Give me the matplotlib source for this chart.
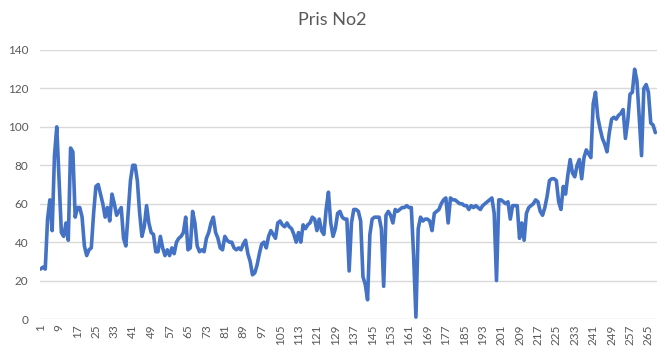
import numpy as np
import matplotlib.pyplot as plt

# DATA
prices = [
    26, 27, 26, 52, 62, 46, 85, 100, 72, 45,
    43, 50, 41, 89, 87, 53, 58, 58, 53, 38,
    33, 36, 37, 55, 69, 70, 65, 60, 53, 58,
    51, 65, 60, 54, 56, 58, 42, 38, 55, 72,
    80, 80, 72, 55, 43, 48, 59, 50, 45, 44,
    35, 35, 43, 37, 33, 36, 33, 37, 34, 40,
    42, 43, 45, 53, 36, 37, 56, 50, 38, 35,
    36, 35, 42, 45, 50, 53, 45, 42, 37, 36,
    43, 41, 40, 40, 37, 36, 37, 36, 39, 41,
    34, 30, 23, 24, 28, 34, 39, 40, 37, 43,
    46, 44, 42, 50, 51, 49, 48, 50, 48, 47,
    44, 40, 45, 40, 49, 47, 49, 50, 53, 52,
    46, 52, 46, 44, 57, 66, 50, 43, 47, 55,
    56, 53, 52, 52, 25, 50, 57, 57, 56, 51,
    22, 18, 10, 44, 52, 53, 53, 53, 47, 17,
    54, 56, 54, 50, 57, 56, 57, 58, 58, 59,
    58, 58, 33, 1, 47, 53, 51, 52, 52, 51,
    46, 55, 56, 57, 60, 62, 63, 50, 63, 62,
    62, 61, 60, 60, 59, 59, 57, 59, 58, 59,
    58, 57, 59, 60, 61, 62, 63, 55, 20, 62,
    62, 61, 60, 61, 52, 59, 59, 59, 42, 50,
    41, 55, 58, 59, 60, 62, 61, 56, 54, 58,
    64, 72, 73, 73, 72, 61, 57, 69, 65, 75,
    83, 76, 74, 80, 83, 73, 84, 88, 86, 84,
    112, 118, 105, 99, 94, 91, 87, 97, 104, 105,
    104, 106, 107, 109, 94, 103, 117, 118, 130, 124,
    105, 85, 120, 122, 118, 102, 101, 97,
]
categories = list(range(1, len(prices) + 1))
xtick_labels = ["1", "9", "17", "25", "33", "41", "49", "57", "65", "73",
                "81", "89", "97", "105", "113", "121", "129", "137", "145",
                "153", "161", "169", "177", "185", "193", "201", "209",
                "217", "225", "233", "241", "249", "257", "265"]
ytick_values = [0, 20, 40, 60, 80, 100, 120, 140]
title = "Pris No2"

# STYLE
plt.rcParams["font.family"] = ["Lato", "DejaVu Sans"]
text_color = "#595959"
grid_color = "#d9d9d9"
line_color = "#4472C4"

fig = plt.figure(figsize=(6.65, 3.53), dpi=100)
ax = fig.add_axes([39.5 / 665, 1 - 319 / 353, (656.5 - 39.5) / 665, (319 - 50) / 353])

ax.plot(categories, prices, color=line_color, lw=2.6,
        solid_joinstyle="round", solid_capstyle="round")

ax.set_xlim(0.5, len(prices) + 0.5)
ax.set_ylim(0, 140)
ax.set_yticks(ytick_values)
ax.set_yticklabels([str(v) for v in ytick_values])
ax.set_xticks([int(s) for s in xtick_labels])
ax.set_xticklabels(xtick_labels, rotation=90)

ax.grid(axis="y", color=grid_color, lw=1)
ax.set_axisbelow(True)
for s in ax.spines.values():
    s.set_visible(False)
ax.tick_params(axis="both", length=0, colors=text_color, labelsize=8.5)
ax.tick_params(axis="y", pad=8)
ax.tick_params(axis="x", pad=4)

fig.text(0.5, 1 - 20 / 353, title, ha="center", va="center",
         fontsize=13, color=text_color)

fig.savefig("out.png", dpi=100)
